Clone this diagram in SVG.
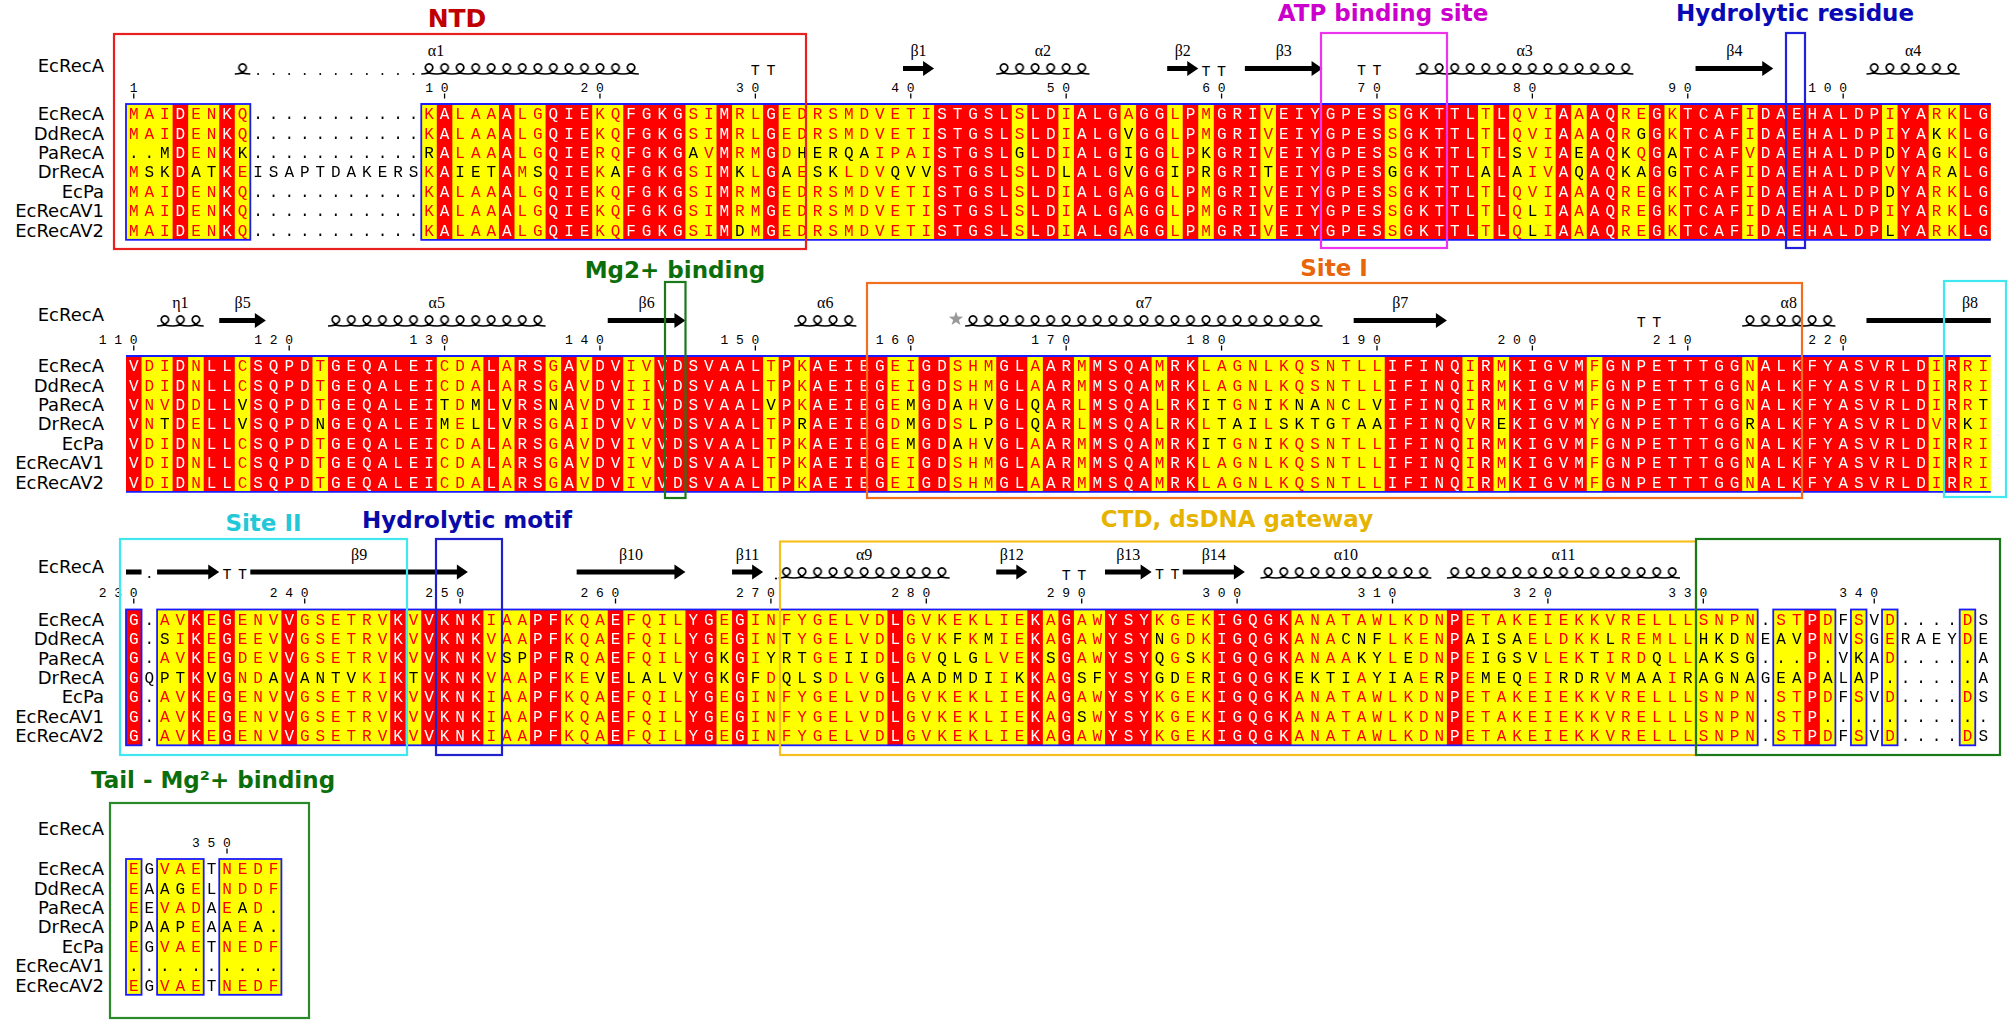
<svg xmlns="http://www.w3.org/2000/svg" width="2007" height="1020" viewBox="0 0 2007 1020">
<style>
.seq{font-family:"Liberation Mono",monospace;font-size:16px;letter-spacing:5.94px}
.nm{font-family:"DejaVu Sans",sans-serif;font-size:18px;text-anchor:end;fill:#000}
.num{font-family:"Liberation Mono",monospace;font-size:13px;letter-spacing:7.74px;fill:#000}
.tt{font-family:"Liberation Mono",monospace;font-size:15px;letter-spacing:6.54px;fill:#000}
.lab{font-family:"Liberation Serif",serif;font-size:16px;text-anchor:middle;fill:#000}
.ttl{font-family:"DejaVu Sans",sans-serif;font-weight:bold;font-size:23px;text-anchor:middle}
.frm{fill:none;stroke-width:2.2}
.bx{fill:none;stroke:#1a1aff;stroke-width:1.8}
.tick{stroke:#000;stroke-width:1.3;fill:none}
.hx{fill:url(#hx)}
.ar{fill:#000}
</style>
<defs>
<pattern id="hx" patternUnits="userSpaceOnUse" x="126" y="63" width="15.54" height="252"><path d="M0,11 C4,11 8,10.2 9.6,7.8 A3.7,3.7 0 1 0 6,7.8 C6.6,10.2 11,11 15.54,11" fill="none" stroke="#000" stroke-width="1.7"/></pattern>
<g id="names" class="nm">
<text x="104" y="16.2">EcRecA</text><text x="104" y="35.6">DdRecA</text><text x="104" y="55">PaRecA</text><text x="104" y="74.4">DrRecA</text><text x="104" y="93.8">EcPa</text><text x="104" y="113.2">EcRecAV1</text><text x="104" y="132.6">EcRecAV2</text>
</g>
<path id="B1" d="M0 0h8v7h-8zM19 0h101v7h-101z"/>
<path id="R1" d="M3 0h1v7h-1zM6 0h1v7h-1zM20 0h1v7h-1zM24 0h1v7h-1zM27 0h3v7h-3zM32 0h4v7h-4zM38 0h1v7h-1zM41 0h1v7h-1zM52 0h5v7h-5zM58 0h2v7h-2zM61 0h3v7h-3zM65 0h2v7h-2zM68 0h1v7h-1zM70 0h3v7h-3zM74 0h7v7h-7zM82 0h5v7h-5zM88 0h1v7h-1zM92 0h1v7h-1zM94 0h2v7h-2zM98 0h1v7h-1zM100 0h4v7h-4zM105 0h8v7h-8zM114 0h2v7h-2zM118 0h2v7h-2z"/>
<path id="X1" d="M64 1h1v1h-1zM97 1h1v1h-1zM116 1h1v1h-1zM0 2h3v1h-3zM7 2h1v1h-1zM19 2h1v1h-1zM36 2h1v1h-1zM43 2h5v1h-5zM57 2h1v1h-1zM64 2h1v1h-1zM69 2h1v1h-1zM89 2h1v1h-1zM93 2h1v1h-1zM96 2h1v1h-1zM99 2h1v1h-1zM113 2h1v1h-1zM116 2h1v1h-1zM1 3h2v1h-2zM4 3h2v1h-2zM21 3h3v1h-3zM26 3h1v1h-1zM31 3h1v1h-1zM39 3h1v1h-1zM42 3h1v1h-1zM44 3h2v1h-2zM49 3h3v1h-3zM60 3h1v1h-1zM64 3h1v1h-1zM67 3h1v1h-1zM69 3h1v1h-1zM73 3h1v1h-1zM81 3h1v1h-1zM87 3h1v1h-1zM89 3h1v1h-1zM93 3h1v1h-1zM96 3h2v1h-2zM99 3h1v1h-1zM117 3h1v1h-1zM113 4h1v1h-1zM90 5h1v1h-1zM39 6h1v1h-1zM90 6h1v1h-1zM113 6h1v1h-1z"/>
<path id="B2" d="M0 0h120v7h-120z"/>
<path id="R2" d="M0 0h1v7h-1zM3 0h1v7h-1zM5 0h2v7h-2zM8 0h4v7h-4zM13 0h7v7h-7zM23 0h1v7h-1zM25 0h2v7h-2zM28 0h1v7h-1zM30 0h2v7h-2zM34 0h7v7h-7zM42 0h1v7h-1zM44 0h5v7h-5zM51 0h2v7h-2zM56 0h2v7h-2zM59 0h2v7h-2zM62 0h4v7h-4zM67 0h2v7h-2zM81 0h5v7h-5zM87 0h1v7h-1zM89 0h5v7h-5zM95 0h9v7h-9zM105 0h11v7h-11zM117 0h1v7h-1z"/>
<path id="X2" d="M7 2h1v1h-1zM20 2h1v1h-1zM22 2h1v1h-1zM24 2h1v1h-1zM27 2h1v1h-1zM41 2h1v1h-1zM50 2h1v1h-1zM53 2h1v1h-1zM55 2h1v1h-1zM58 2h1v1h-1zM69 2h2v1h-2zM73 2h1v1h-1zM75 2h2v1h-2zM78 2h1v1h-1zM80 2h1v1h-1zM119 2h1v1h-1zM2 3h1v1h-1zM7 3h1v1h-1zM12 3h1v1h-1zM20 3h1v1h-1zM22 3h1v1h-1zM24 3h1v1h-1zM43 3h1v1h-1zM50 3h1v1h-1zM54 3h2v1h-2zM58 3h1v1h-1zM70 3h3v1h-3zM74 3h4v1h-4zM79 3h2v1h-2zM88 3h1v1h-1zM104 3h1v1h-1zM118 3h1v1h-1zM50 4h1v1h-1zM53 4h1v1h-1zM55 4h1v1h-1zM69 4h2v1h-2zM73 4h1v1h-1z"/>
<path id="B3" d="M0 0h1v7h-1zM2 0h103v7h-103zM106 0h4v7h-4zM111 0h1v7h-1zM113 0h1v7h-1zM118 0h1v7h-1z"/>
<path id="R3" d="M0 0h1v7h-1zM4 0h1v7h-1zM6 0h1v7h-1zM10 0h1v7h-1zM17 0h1v7h-1zM19 0h4v7h-4zM26 0h2v7h-2zM31 0h1v7h-1zM36 0h2v7h-2zM39 0h1v7h-1zM49 0h1v7h-1zM58 0h1v7h-1zM60 0h1v7h-1zM63 0h3v7h-3zM70 0h5v7h-5zM85 0h1v7h-1zM108 0h1v7h-1z"/>
<path id="X3" d="M2 1h1v1h-1zM42 1h1v1h-1zM53 1h1v1h-1zM55 1h1v1h-1zM66 1h1v1h-1zM78 1h3v1h-3zM86 1h4v1h-4zM95 1h1v1h-1zM101 1h3v1h-3zM106 1h2v1h-2zM24 2h2v1h-2zM28 2h1v1h-1zM38 2h1v1h-1zM41 2h3v1h-3zM46 2h2v1h-2zM52 2h3v1h-3zM59 2h1v1h-1zM66 2h1v1h-1zM68 2h1v1h-1zM79 2h2v1h-2zM82 2h1v1h-1zM87 2h4v1h-4zM94 2h1v1h-1zM98 2h1v1h-1zM101 2h4v1h-4zM106 2h2v1h-2zM109 2h1v1h-1zM111 2h1v1h-1zM118 2h1v1h-1zM2 3h2v1h-2zM5 3h1v1h-1zM9 3h1v1h-1zM11 3h4v1h-4zM18 3h1v1h-1zM30 3h1v1h-1zM32 3h4v1h-4zM38 3h1v1h-1zM40 3h1v1h-1zM42 3h3v1h-3zM48 3h1v1h-1zM50 3h6v1h-6zM57 3h1v1h-1zM61 3h2v1h-2zM66 3h2v1h-2zM69 3h1v1h-1zM75 3h4v1h-4zM80 3h3v1h-3zM84 3h1v1h-1zM87 3h3v1h-3zM92 3h3v1h-3zM96 3h3v1h-3zM100 3h5v1h-5zM106 3h2v1h-2zM109 3h1v1h-1zM111 3h1v1h-1zM113 3h1v1h-1zM118 3h1v1h-1zM61 5h1v1h-1zM109 5h1v1h-1zM111 5h1v1h-1zM113 5h1v1h-1zM118 5h1v1h-1z"/>
<path id="B4" d="M0 0h1v7h-1zM2 0h3v7h-3zM6 0h4v7h-4z"/>
<path id="X4" d="M2 1h2v1h-2zM7 2h1v1h-1zM9 2h1v1h-1zM0 3h1v1h-1zM2 3h2v1h-2zM6 3h1v1h-1zM8 3h2v1h-2zM0 5h1v1h-1zM2 5h3v1h-3zM6 5h4v1h-4z"/>
<g id="S1" class="seq">
<text x="128.97" y="119.1">MAIDENKQ...........KALAAALGQIEKQFGKGSIMRLGEDRSMDVETISTGSLSLDIALGAGGLPMGRIVEIYGPESSGKTTLTLQVIAAAQREGKTCAFIDAEHALDPIYARKLG</text>
<text x="128.97" y="138.5">MAIDENKQ...........KALAAALGQIEKQFGKGSIMRLGEDRSMDVETISTGSLSLDIALGVGGLPMGRIVEIYGPESSGKTTLTLQVIAAAQRGGKTCAFIDAEHALDPIYAKKLG</text>
<text x="128.97" y="157.9">..MDENKK...........RALAAALGQIERQFGKGAVMRMGDHERQAIPAISTGSLGLDIALGIGGLPKGRIVEIYGPESSGKTTLTLSVIAEAQKQGATCAFVDAEHALDPDYAGKLG</text>
<text x="128.97" y="177.3">MSKDATKEISAPTDAKERSKAIETAMSQIEKAFGKGSIMKLGAESKLDVQVVSTGSLSLDLALGVGGIPRGRITEIYGPESGGKTTLALAIVAQAQKAGGTCAFIDAEHALDPVYARALG</text>
<text x="128.97" y="196.7">MAIDENKQ...........KALAAALGQIEKQFGKGSIMRMGEDRSMDVETISTGSLSLDIALGAGGLPMGRIVEIYGPESSGKTTLTLQVIAAAQREGKTCAFIDAEHALDPDYARKLG</text>
<text x="128.97" y="216.1">MAIDENKQ...........KALAAALGQIEKQFGKGSIMRMGEDRSMDVETISTGSLSLDIALGAGGLPMGRIVEIYGPESSGKTTLTLQLIAAAQREGKTCAFIDAEHALDPIYARKLG</text>
<text x="128.97" y="235.5">MAIDENKQ...........KALAAALGQIEKQFGKGSIMDMGEDRSMDVETISTGSLSLDIALGAGGLPMGRIVEIYGPESSGKTTLTLQLIAAAQREGKTCAFIDAEHALDPLYARKLG</text>
</g>
<g id="S2" class="seq">
<text x="128.97" y="371.1">VDIDNLLCSQPDTGEQALEICDALARSGAVDVIVVDSVAALTPKAEIEGEIGDSHMGLAARMMSQAMRKLAGNLKQSNTLLIFINQIRMKIGVMFGNPETTTGGNALKFYASVRLDIRRI</text>
<text x="128.97" y="390.5">VDIDNLLCSQPDTGEQALEICDALARSGAVDVIIVDSVAALTPKAEIEGEIGDSHMGLAARMMSQAMRKLAGNLKQSNTLLIFINQIRMKIGVMFGNPETTTGGNALKFYASVRLDIRRI</text>
<text x="128.97" y="409.9">VNVDDLLVSQPDTGEQALEITDMLVRSNAVDVIIVDSVAALVPKAEIEGEMGDAHVGLQARLMSQALRKITGNIKNANCLVIFINQIRMKIGVMFGNPETTTGGNALKFYASVRLDIRRT</text>
<text x="128.97" y="429.3">VNTDELLVSQPDNGEQALEIMELLVRSGAIDVVVVDSVAALTPRAEIEGDMGDSLPGLQARLMSQALRKLTAILSKTGTAAIFINQVREKIGVMYGNPETTTGGRALKFYASVRLDVRKI</text>
<text x="128.97" y="448.7">VDIDNLLCSQPDTGEQALEICDALARSGAVDVIVVDSVAALTPKAEIEGEMGDAHVGLAARMMSQAMRKITGNIKQSNTLLIFINQIRMKIGVMFGNPETTTGGNALKFYASVRLDIRRI</text>
<text x="128.97" y="468.1">VDIDNLLCSQPDTGEQALEICDALARSGAVDVIVVDSVAALTPKAEIEGEIGDSHMGLAARMMSQAMRKLAGNLKQSNTLLIFINQIRMKIGVMFGNPETTTGGNALKFYASVRLDIRRI</text>
<text x="128.97" y="487.5">VDIDNLLCSQPDTGEQALEICDALARSGAVDVIVVDSVAALTPKAEIEGEIGDSHMGLAARMMSQAMRKLAGNLKQSNTLLIFINQIRMKIGVMFGNPETTTGGNALKFYASVRLDIRRI</text>
</g>
<g id="S3" class="seq">
<text x="128.97" y="624.6">G.AVKEGENVVGSETRVKVVKNKIAAPFKQAEFQILYGEGINFYGELVDLGVKEKLIEKAGAWYSYKGEKIGQGKANATAWLKDNPETAKEIEKKVRELLLSNPN.STPDFSVD....DS</text>
<text x="128.97" y="644">G.SIKEGEEVVGSETRVKVVKNKVAAPFKQAEFQILYGEGINTYGELVDLGVKFKMIEKAGAWYSYNGDKIGQGKANACNFLKENPAISAELDKKLREMLLHKDNEAVPNVSGERAEYDE</text>
<text x="128.97" y="663.4">G.AVKEGDEVVGSETRVKVVKNKVSPPFRQAEFQILYGKGIYRTGEIIDLGVQLGLVEKSGAWYSYQGSKIGQGKANAAKYLEDNPEIGSVLEKTIRDQLLAKSG...P.VKAD.....A</text>
<text x="128.97" y="682.8">GQPTKVGNDAVANTVKIKTVKNKVAAPFKEVELALVYGKGFDQLSDLVGLAADMDIIKKAGSFYSYGDERIGQGKEKTIAYIAERPEMEQEIRDRVMAAIRAGNAGEAPALAP......A</text>
<text x="128.97" y="702.2">G.AVKEGENVVGSETRVKVVKNKIAAPFKQAEFQILYGEGINFYGELVDLGVKEKLIEKAGAWYSYKGEKIGQGKANATAWLKDNPETAKEIEKKVRELLLSNPN.STPDFSVD....DS</text>
<text x="128.97" y="721.6">G.AVKEGENVVGSETRVKVVKNKIAAPFKQAEFQILYGEGINFYGELVDLGVKEKLIEKAGSWYSYKGEKIGQGKANATAWLKDNPETAKEIEKKVRELLLSNPN.STP...........</text>
<text x="128.97" y="741">G.AVKEGENVVGSETRVKVVKNKIAAPFKQAEFQILYGEGINFYGELVDLGVKEKLIEKAGAWYSYKGEKIGQGKANATAWLKDNPETAKEIEKKVRELLLSNPN.STPDFSVD....DS</text>
</g>
<g id="S4" class="seq">
<text x="128.97" y="874.1">EGVAETNEDF</text>
<text x="128.97" y="893.5">EAAGELNDDF</text>
<text x="128.97" y="912.9">EEVADAEAD.</text>
<text x="128.97" y="932.3">PAAPEAAEA.</text>
<text x="128.97" y="951.7">EGVAETNEDF</text>
<text x="128.97" y="971.1">..........</text>
<text x="128.97" y="990.5">EGVAETNEDF</text>
</g>
<mask id="w1" maskUnits="userSpaceOnUse" x="0" y="0" width="2007" height="1020"><g transform="translate(126 104) scale(15.54 19.4)"><use href="#R1" fill="#fff"/></g></mask>
<mask id="r1" maskUnits="userSpaceOnUse" x="0" y="0" width="2007" height="1020"><g transform="translate(126 104) scale(15.54 19.4)"><use href="#B1" fill="#fff"/><use href="#R1" fill="#000"/><use href="#X1" fill="#000"/></g></mask>
<mask id="k1" maskUnits="userSpaceOnUse" x="0" y="0" width="2007" height="1020"><rect width="2007" height="1020" fill="#fff"/><g transform="translate(126 104) scale(15.54 19.4)"><use href="#B1" fill="#000"/><use href="#X1" fill="#fff"/></g></mask>
<mask id="w2" maskUnits="userSpaceOnUse" x="0" y="0" width="2007" height="1020"><g transform="translate(126 356) scale(15.54 19.4)"><use href="#R2" fill="#fff"/></g></mask>
<mask id="r2" maskUnits="userSpaceOnUse" x="0" y="0" width="2007" height="1020"><g transform="translate(126 356) scale(15.54 19.4)"><use href="#B2" fill="#fff"/><use href="#R2" fill="#000"/><use href="#X2" fill="#000"/></g></mask>
<mask id="k2" maskUnits="userSpaceOnUse" x="0" y="0" width="2007" height="1020"><rect width="2007" height="1020" fill="#fff"/><g transform="translate(126 356) scale(15.54 19.4)"><use href="#B2" fill="#000"/><use href="#X2" fill="#fff"/></g></mask>
<mask id="w3" maskUnits="userSpaceOnUse" x="0" y="0" width="2007" height="1020"><g transform="translate(126 609.5) scale(15.54 19.4)"><use href="#R3" fill="#fff"/></g></mask>
<mask id="r3" maskUnits="userSpaceOnUse" x="0" y="0" width="2007" height="1020"><g transform="translate(126 609.5) scale(15.54 19.4)"><use href="#B3" fill="#fff"/><use href="#R3" fill="#000"/><use href="#X3" fill="#000"/></g></mask>
<mask id="k3" maskUnits="userSpaceOnUse" x="0" y="0" width="2007" height="1020"><rect width="2007" height="1020" fill="#fff"/><g transform="translate(126 609.5) scale(15.54 19.4)"><use href="#B3" fill="#000"/><use href="#X3" fill="#fff"/></g></mask>
<mask id="r4" maskUnits="userSpaceOnUse" x="0" y="0" width="2007" height="1020"><g transform="translate(126 859) scale(15.54 19.4)"><use href="#B4" fill="#fff"/><use href="#X4" fill="#000"/></g></mask>
<mask id="k4" maskUnits="userSpaceOnUse" x="0" y="0" width="2007" height="1020"><rect width="2007" height="1020" fill="#fff"/><g transform="translate(126 859) scale(15.54 19.4)"><use href="#B4" fill="#000"/><use href="#X4" fill="#fff"/></g></mask>
</defs>
<rect width="2007" height="1020" fill="#fff"/>

<g id="shading">
<g transform="translate(126 104) scale(15.54 19.4)"><use href="#B1" fill="#ffff00"/><use href="#R1" fill="#ff0000"/></g>
<g transform="translate(126 356) scale(15.54 19.4)"><use href="#B2" fill="#ffff00"/><use href="#R2" fill="#ff0000"/></g>
<g transform="translate(126 609.5) scale(15.54 19.4)"><use href="#B3" fill="#ffff00"/><use href="#R3" fill="#ff0000"/></g>
<g transform="translate(126 859) scale(15.54 19.4)"><use href="#B4" fill="#ffff00"/></g>
</g>

<g id="residues">
<use href="#S1" fill="#fff" mask="url(#w1)"/><use href="#S1" fill="#f00" mask="url(#r1)"/><use href="#S1" fill="#000" mask="url(#k1)"/>
<use href="#S2" fill="#fff" mask="url(#w2)"/><use href="#S2" fill="#f00" mask="url(#r2)"/><use href="#S2" fill="#000" mask="url(#k2)"/>
<use href="#S3" fill="#fff" mask="url(#w3)"/><use href="#S3" fill="#f00" mask="url(#r3)"/><use href="#S3" fill="#000" mask="url(#k3)"/>
<use href="#S4" fill="#f00" mask="url(#r4)"/><use href="#S4" fill="#000" mask="url(#k4)"/>
</g>

<g id="similarity-boxes">
<rect class="bx" x="126" y="104" width="124.32" height="135.8"/>
<path class="bx" d="M1990.8 104H421.26V239.8H1990.8"/>
<path class="bx" d="M126 356H1990.8M126 491.8H1990.8"/>
<rect class="bx" x="126" y="609.5" width="15.54" height="135.8"/>
<rect class="bx" x="157.08" y="609.5" width="1600.62" height="135.8"/>
<rect class="bx" x="1773.24" y="609.5" width="62.16" height="135.8"/>
<rect class="bx" x="1850.94" y="609.5" width="15.54" height="135.8"/>
<rect class="bx" x="1882.02" y="609.5" width="15.54" height="135.8"/>
<rect class="bx" x="1959.72" y="609.5" width="15.54" height="135.8"/>
<rect class="bx" x="126" y="859" width="15.54" height="135.8"/>
<rect class="bx" x="157.08" y="859" width="46.62" height="135.8"/>
<rect class="bx" x="219.24" y="859" width="62.16" height="135.8"/>
</g>

<g id="sequence-names">
<use href="#names" y="104"/><use href="#names" y="356"/><use href="#names" y="609.5"/><use href="#names" y="859"/>
<text class="nm" x="104" y="71.5">EcRecA</text>
<text class="nm" x="104" y="321">EcRecA</text>
<text class="nm" x="104" y="573">EcRecA</text>
<text class="nm" x="104" y="835">EcRecA</text>
</g>

<g id="numbering">
<text class="num" x="129.87" y="92">1</text><text class="num" x="425.13" y="92">10</text><text class="num" x="580.53" y="92">20</text><text class="num" x="735.93" y="92">30</text><text class="num" x="891.33" y="92">40</text><text class="num" x="1046.73" y="92">50</text><text class="num" x="1202.13" y="92">60</text><text class="num" x="1357.53" y="92">70</text><text class="num" x="1512.93" y="92">80</text><text class="num" x="1668.33" y="92">90</text><text class="num" x="1808.19" y="92">100</text>
<path class="tick" d="M133.77 93.5v5M444.57 93.5v5M599.97 93.5v5M755.37 93.5v5M910.77 93.5v5M1066.17 93.5v5M1221.57 93.5v5M1376.97 93.5v5M1532.37 93.5v5M1687.77 93.5v5M1843.17 93.5v5"/>
<text class="num" x="98.79" y="344">110</text><text class="num" x="254.19" y="344">120</text><text class="num" x="409.59" y="344">130</text><text class="num" x="564.99" y="344">140</text><text class="num" x="720.39" y="344">150</text><text class="num" x="875.79" y="344">160</text><text class="num" x="1031.19" y="344">170</text><text class="num" x="1186.59" y="344">180</text><text class="num" x="1341.99" y="344">190</text><text class="num" x="1497.39" y="344">200</text><text class="num" x="1652.79" y="344">210</text><text class="num" x="1808.19" y="344">220</text>
<path class="tick" d="M133.77 345.5v5M289.17 345.5v5M444.57 345.5v5M599.97 345.5v5M755.37 345.5v5M910.77 345.5v5M1066.17 345.5v5M1221.57 345.5v5M1376.97 345.5v5M1532.37 345.5v5M1687.77 345.5v5M1843.17 345.5v5"/>
<text class="num" x="98.79" y="597">230</text><text class="num" x="269.73" y="597">240</text><text class="num" x="425.13" y="597">250</text><text class="num" x="580.53" y="597">260</text><text class="num" x="735.93" y="597">270</text><text class="num" x="891.33" y="597">280</text><text class="num" x="1046.73" y="597">290</text><text class="num" x="1202.13" y="597">300</text><text class="num" x="1357.53" y="597">310</text><text class="num" x="1512.93" y="597">320</text><text class="num" x="1668.33" y="597">330</text><text class="num" x="1839.27" y="597">340</text>
<path class="tick" d="M133.77 598.5v5M304.71 598.5v5M460.11 598.5v5M615.51 598.5v5M770.91 598.5v5M926.31 598.5v5M1081.71 598.5v5M1237.11 598.5v5M1392.51 598.5v5M1547.91 598.5v5M1703.31 598.5v5M1874.25 598.5v5"/>
<text class="num" x="192.03" y="847">350</text>
<path class="tick" d="M227.01 848.5v5"/>
</g>

<g id="secondary-structure">
<rect class="hx" x="234.78" y="63" width="15.54" height="13"/>
<path d="M258.09 74H420" stroke="#000" stroke-width="2" stroke-linecap="round" stroke-dasharray="0 15.54" fill="none"/>
<rect class="hx" x="421.26" y="63" width="217.56" height="13"/>
<rect class="hx" x="996.24" y="63" width="93.24" height="13"/>
<rect class="hx" x="1415.82" y="63" width="217.56" height="13"/>
<rect class="hx" x="1866.48" y="63" width="93.24" height="13"/>
<path class="ar" d="M903,66H923.08V61L934.08,68.5L923.08,76V71H903Z"/>
<path class="ar" d="M1167.18,66H1187.26V61L1198.26,68.5L1187.26,76V71H1167.18Z"/>
<path class="ar" d="M1244.88,66H1311.58V61L1322.58,68.5L1311.58,76V71H1244.88Z"/>
<path class="ar" d="M1695.54,66H1762.24V61L1773.24,68.5L1762.24,76V71H1695.54Z"/>
<text class="tt" x="750.87" y="75">TT</text><text class="tt" x="1201.53" y="76">TT</text><text class="tt" x="1356.93" y="75">TT</text>
<text class="lab" x="436" y="56">α1</text><text class="lab" x="918.5" y="56">β1</text><text class="lab" x="1042.9" y="56">α2</text><text class="lab" x="1182.7" y="56">β2</text><text class="lab" x="1283.7" y="56">β3</text><text class="lab" x="1524.6" y="56">α3</text><text class="lab" x="1734.4" y="56">β4</text><text class="lab" x="1913.1" y="56">α4</text>

<rect class="hx" x="157.08" y="315" width="46.62" height="13"/>
<rect class="hx" x="328.02" y="315" width="217.56" height="13"/>
<rect class="hx" x="794.22" y="315" width="62.16" height="13"/>
<rect class="hx" x="965.16" y="315" width="357.42" height="13"/>
<rect class="hx" x="1742.16" y="315" width="93.24" height="13"/>
<path class="ar" d="M219.24,318H254.86V313L265.86,320.5L254.86,328V323H219.24Z"/>
<path class="ar" d="M607.74,318H674.44V313L685.44,320.5L674.44,328V323H607.74Z"/>
<path class="ar" d="M1353.66,318H1435.9V313L1446.9,320.5L1435.9,328V323H1353.66Z"/>
<rect class="ar" x="1866.48" y="318" width="124.32" height="5"/>
<polygon fill="#999" points="956,311.5 957.76,316.57 963.13,316.68 958.85,319.93 960.41,325.07 956,322 951.59,325.07 953.15,319.93 948.87,316.68 954.24,316.57"/>
<text class="tt" x="1636.65" y="327">TT</text>
<text class="lab" x="180.4" y="308">η1</text><text class="lab" x="242.6" y="308">β5</text><text class="lab" x="436.8" y="308">α5</text><text class="lab" x="646.6" y="308">β6</text><text class="lab" x="825.3" y="308">α6</text><text class="lab" x="1143.9" y="308">α7</text><text class="lab" x="1400.3" y="308">β7</text><text class="lab" x="1788.8" y="308">α8</text><text class="lab" x="1970" y="308">β8</text>

<rect class="ar" x="126" y="569.5" width="15.54" height="5"/>
<circle cx="149.31" cy="577" r="1.1" fill="#000"/>
<path class="ar" d="M157.08,569.5H208.24V564.5L219.24,572L208.24,579.5V574.5H157.08Z"/>
<text class="tt" x="222.51" y="579">TT</text>
<path class="ar" d="M250.32,569.5H456.88V564.5L467.88,572L456.88,579.5V574.5H250.32Z"/>
<path class="ar" d="M576.66,569.5H674.44V564.5L685.44,572L674.44,579.5V574.5H576.66Z"/>
<path class="ar" d="M732.06,569.5H752.14V564.5L763.14,572L752.14,579.5V574.5H732.06Z"/>
<circle cx="776" cy="578.5" r="1.1" fill="#000"/>
<rect class="hx" x="778.68" y="567" width="170.94" height="13"/>
<path class="ar" d="M996.24,569.5H1016.32V564.5L1027.32,572L1016.32,579.5V574.5H996.24Z"/>
<text class="tt" x="1061.67" y="580">TT</text>
<path class="ar" d="M1105.02,569.5H1140.64V564.5L1151.64,572L1140.64,579.5V574.5H1105.02Z"/>
<text class="tt" x="1154.91" y="579">TT</text>
<path class="ar" d="M1182.72,569.5H1233.88V564.5L1244.88,572L1233.88,579.5V574.5H1182.72Z"/>
<rect class="hx" x="1260.42" y="567" width="170.94" height="13"/>
<rect class="hx" x="1446.9" y="567" width="233.1" height="13"/>
<text class="lab" x="359.1" y="560">β9</text><text class="lab" x="631" y="560">β10</text><text class="lab" x="747.6" y="560">β11</text><text class="lab" x="864.1" y="560">α9</text><text class="lab" x="1011.8" y="560">β12</text><text class="lab" x="1128.3" y="560">β13</text><text class="lab" x="1213.8" y="560">β14</text><text class="lab" x="1345.9" y="560">α10</text><text class="lab" x="1563.5" y="560">α11</text>
</g>

<g id="region-frames">
<rect class="frm" x="114" y="34" width="692" height="215" stroke="#e82020"/>
<rect class="frm" x="1321" y="33" width="126" height="215" stroke="#ee33ee"/>
<rect class="frm" x="1786" y="33" width="19" height="215" stroke="#2020dd"/>
<rect class="frm" x="665" y="282" width="20.5" height="216" stroke="#1a7a1a"/>
<rect class="frm" x="867" y="283" width="935" height="215" stroke="#f07020"/>
<rect class="frm" x="1944" y="281" width="62" height="216" stroke="#40e6f0"/>
<rect class="frm" x="120" y="539" width="287" height="216" stroke="#40e6f0"/>
<rect class="frm" x="436" y="539" width="66" height="216" stroke="#2020cc"/>
<rect class="frm" x="780" y="541.5" width="916" height="213.5" stroke="#f5c020"/>
<rect class="frm" x="1696" y="539" width="304" height="216" stroke="#1a7a1a"/>
<rect class="frm" x="110" y="803" width="199" height="215" stroke="#2a8a2a"/>
</g>

<g id="region-titles">
<text class="ttl" x="457" y="27" style="font-size:25px" fill="#c00000">NTD</text>
<text class="ttl" x="1383" y="21" fill="#cc00cc">ATP binding site</text>
<text class="ttl" x="1795" y="21" fill="#0a0ab4">Hydrolytic residue</text>
<text class="ttl" x="675" y="278" fill="#0b6e0b">Mg2+ binding</text>
<text class="ttl" x="1334" y="276" fill="#e8650a">Site I</text>
<text class="ttl" x="263.5" y="531" fill="#22c8d8">Site II</text>
<text class="ttl" x="467" y="528" fill="#0a0aa8">Hydrolytic motif</text>
<text class="ttl" x="1237" y="527" fill="#e6b400">CTD, dsDNA gateway</text>
<text class="ttl" x="213" y="788" fill="#0b6e0b">Tail - Mg²+ binding</text>
</g>
</svg>
